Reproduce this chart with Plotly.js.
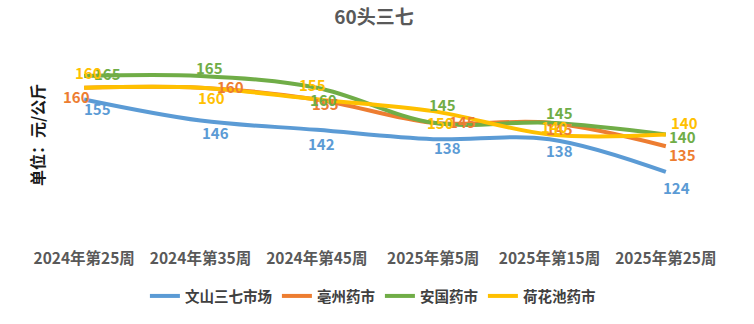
<!DOCTYPE html>
<html>
<head>
<meta charset="utf-8">
<script src="https://cdn.plot.ly/plotly-3.0.1.min.js"></script>
<style>html,body{margin:0;padding:0;background:#fff;}#chart{width:754px;height:324px;}</style>
</head>
<body>
<div id="chart"></div>
<script>
// ---- data ----
const categories = ["2024年第25周", "2024年第35周", "2024年第45周", "2025年第5周", "2025年第15周", "2025年第25周"];
const seriesNames = ["文山三七市场", "亳州药市", "安国药市", "荷花池药市"];
const wenshan = [155, 146, 142, 138, 138, 124];
const bozhou = [160, 160, 155, 145, 145, 135];
const anguo = [165, 165, 160, 145, 145, 140];
const hehuachi = [160, 160, 155, 150, 140, 140];

// ---- styles ----
const colors = ["#5B9BD5", "#ED7D31", "#70AD47", "#FFC000"];
const FONT = "'Noto Sans CJK SC', 'Noto Sans', sans-serif";
// label offsets in pixels (dx right, dy down) per series per point
const labelDx = [
  [13, 15, 5, 14, 10, 11],
  [-8, 30, 9, 29, 10, 17],
  [23, 9, 7, 9, 10, 17],
  [4, 11, -4, 7, 5, 19]
];
const labelDy = [
  [9, 12, 14, 8, 11, 16],
  [9, -1, 4, -1, 6, 8],
  [-3, -9, 12, -18, -10, 2],
  [-15, 10, -15, 11, -8, -12]
];

const allSeries = [wenshan, bozhou, anguo, hehuachi];
const traces = allSeries.map((vals, i) => ({
  type: "scatter",
  mode: "lines",
  name: seriesNames[i],
  x: categories,
  y: vals,
  line: {color: colors[i], width: 4, shape: "spline", smoothing: 1},
  hoverinfo: "none"
}));

const annotations = [];
allSeries.forEach((vals, i) => {
  vals.forEach((v, j) => {
    annotations.push({
      xref: "x", yref: "y", x: categories[j], y: v,
      text: String(v), showarrow: false,
      xshift: labelDx[i][j], yshift: -labelDy[i][j],
      font: {family: FONT, size: 15, color: colors[i], weight: "bold"},
      xanchor: "center", yanchor: "middle"
    });
  });
});
annotations.push({
  xref: "paper", yref: "paper", x: 0, y: 0.525, xshift: 11,
  text: "单位：元/公斤", textangle: -90, showarrow: false,
  font: {family: FONT, size: 16, color: "#1a1a1a", weight: "bold"},
  xanchor: "center", yanchor: "middle"
});

const layout = {
  width: 754, height: 324,
  paper_bgcolor: "#ffffff", plot_bgcolor: "#ffffff",
  margin: {l: 26, r: 30, t: 40, b: 84},
  title: {
    text: "60头三七",
    font: {family: FONT, size: 19, color: "#595959", weight: "bold"},
    x: 0.496, xanchor: "center", y: 0.945, yanchor: "middle"
  },
  xaxis: {
    type: "category", range: [-0.5, 5.5],
    showgrid: false, zeroline: false, showline: false, ticks: "",
    tickfont: {family: FONT, size: 15.5, color: "#595959", weight: "bold"},
    ticklabelstandoff: 7, fixedrange: true
  },
  yaxis: {
    range: [94.9, 180.4], showgrid: false, zeroline: false, showline: false,
    showticklabels: false, ticks: "", fixedrange: true
  },
  showlegend: true,
  legend: {
    orientation: "h", x: 0.497, xanchor: "center", xref: "paper",
    y: -0.28, yanchor: "middle",
    font: {family: FONT, size: 14.5, color: "#404040", weight: "bold"},
    itemwidth: 30, tracegroupgap: 0, bgcolor: "rgba(0,0,0,0)"
  },
  annotations: annotations
};

Plotly.newPlot("chart", traces, layout, {staticPlot: true, displayModeBar: false});
</script>
</body>
</html>
